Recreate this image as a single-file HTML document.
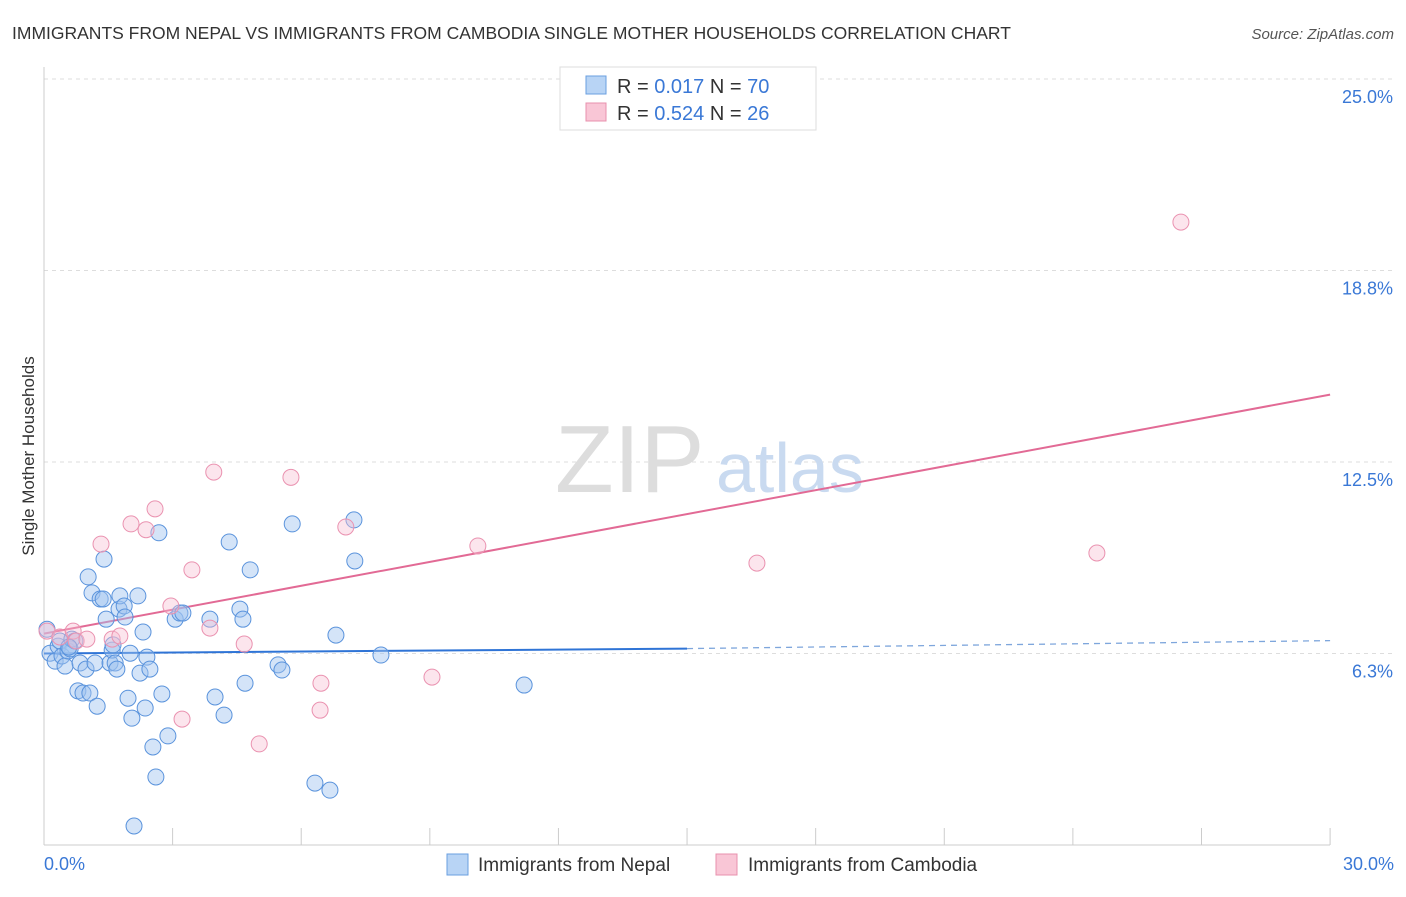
<!DOCTYPE html>
<html><head><meta charset="utf-8"><style>
body{margin:0;background:#fff;font-family:"Liberation Sans",sans-serif;}
svg text{font-family:"Liberation Sans",sans-serif;}
</style></head><body>
<svg id="c" width="1406" height="892" viewBox="0 0 1406 892">
<text x="12" y="39" font-size="17.5" fill="#333">IMMIGRANTS FROM NEPAL VS IMMIGRANTS FROM CAMBODIA SINGLE MOTHER HOUSEHOLDS CORRELATION CHART</text>
<text x="1394" y="39" font-size="15" fill="#555" font-style="italic" text-anchor="end">Source: ZipAtlas.com</text>
<text x="0" y="0" transform="translate(34,456) rotate(-90)" font-size="17" fill="#333" text-anchor="middle">Single Mother Households</text>
<g id="grid"></g>
<g><text x="555" y="492" font-size="96" fill="#ddd" font-family="Liberation Serif">ZIP</text><text x="716" y="492" font-size="70" fill="#c9daf0">atlas</text></g>
<g id="lines"></g>
<g id="pts"></g>
<g>
<rect x="560" y="67" width="256" height="63" fill="#fff" stroke="#ddd"/>
<rect x="586" y="76" width="20" height="18" fill="#b8d4f5" stroke="#6a9fe0"/>
<rect x="586" y="103" width="20" height="18" fill="#f9c6d6" stroke="#e890ad"/>
<text x="617" y="93" font-size="20" fill="#333">R = <tspan fill="#3a78d6">0.017</tspan>   N = <tspan fill="#3a78d6">70</tspan></text>
<text x="617" y="120" font-size="20" fill="#333">R = <tspan fill="#3a78d6">0.524</tspan>   N = <tspan fill="#3a78d6">26</tspan></text>
</g>
<g>
<rect x="447" y="854" width="21" height="21" fill="#b8d4f5" stroke="#6a9fe0"/>
<text x="478" y="871" font-size="19" fill="#333">Immigrants from Nepal</text>
<rect x="716" y="854" width="21" height="21" fill="#f9c6d6" stroke="#e890ad"/>
<text x="748" y="871" font-size="19" fill="#333">Immigrants from Cambodia</text>
</g>
</svg>
<script>
const yTicks=[25.0,18.8,12.5,6.3];
const yTickVals=[25,18.75,12.5,6.25];
const xTickLabels=["0.0%","30.0%"];
const nepalX=[0.07,0.14,0.26,0.33,0.37,0.42,0.49,0.56,0.61,0.65,0.72,0.79,0.84,0.91,0.98,1.03,1.07,1.12,1.19,1.24,1.31,1.38,1.40,1.45,1.54,1.59,1.66,1.70,1.75,1.77,1.87,1.89,1.96,2.01,2.05,2.19,2.24,2.31,2.36,2.40,2.47,2.54,2.61,2.68,2.75,2.89,3.06,3.17,3.24,3.87,3.99,4.20,4.32,4.57,4.64,4.69,4.81,5.46,5.55,5.79,6.32,6.67,6.81,7.23,7.25,7.86,11.20,2.10,1.61,0.58];
const nepalY=[7.04,6.26,6.0,6.49,6.66,6.17,5.84,6.33,6.4,6.72,6.66,5.03,5.94,4.96,5.74,8.75,4.96,8.23,5.94,4.53,8.03,8.03,9.33,7.37,5.94,6.36,5.94,5.74,7.7,8.13,7.8,7.44,4.79,6.26,4.14,8.13,5.61,6.95,4.47,6.13,5.74,3.2,2.22,10.19,4.93,3.56,7.37,7.57,7.57,7.37,4.83,4.24,9.89,7.7,7.37,5.28,8.98,5.88,5.71,10.48,2.02,1.79,6.85,10.61,9.27,6.2,5.22,0.62,6.53,6.46];
const cambX=[0.07,0.37,0.68,0.75,1.00,1.33,1.59,1.77,2.03,2.38,2.59,2.96,3.22,3.45,3.87,3.96,4.67,5.02,5.76,6.44,6.46,7.04,9.05,10.12,16.63,24.56,26.52];
const cambY=[6.98,6.79,6.98,6.66,6.72,9.82,6.72,6.82,10.48,10.29,10.97,7.8,4.11,8.98,7.08,12.17,6.56,3.3,12.0,4.4,5.28,10.38,5.48,9.76,9.2,9.53,20.33];
const nepalLine=[[0,6.25],[15,6.41],[30,6.67]];
const cambLine=[[0,6.9],[30,14.7]];
const X=v=>44+v*42.87, Y=v=>845-v*30.64;
const NS="http://www.w3.org/2000/svg";
function mk(t,a,p){const e=document.createElementNS(NS,t);for(const k in a)e.setAttribute(k,a[k]);p.appendChild(e);return e;}
const g=document.getElementById('grid');
yTickVals.forEach((v,i)=>{
 const l=mk('line',{x1:44,x2:1394,y1:Y(v),y2:Y(v),stroke:'#ddd','stroke-dasharray':'4,4'},g);
 
 
 const t=mk('text',{x:1393,y:Y(v)+24,'font-size':18,fill:'#3a78d6','text-anchor':'end'},g);
 t.textContent=yTicks[i].toFixed(1)+'%';
 
 
});
const ax=mk('line',{x1:44,x2:44,y1:67,y2:845,stroke:'#ccc'},g);


const bx=mk('line',{x1:44,x2:1330,y1:845,y2:845,stroke:'#ccc'},g);


for(let i=1;i<=10;i++){const tk=mk('line',{x1:X(i*3),x2:X(i*3),y1:828,y2:845,stroke:'#ccc'},g);
 
 }
[[0,'start',44],[1,'end',1394]].forEach(([i,a,x])=>{const t=mk('text',{x:x,y:870,'font-size':18,fill:'#3a78d6','text-anchor':a},g);t.textContent=xTickLabels[i];
 
 });
const p=document.getElementById('pts');
nepalX.forEach((x,i)=>{const c=mk('circle',{cx:X(x),cy:Y(nepalY[i]),r:8,fill:'rgba(160,196,240,0.45)',stroke:'#5a93dc','stroke-width':1},p);
 
 });
cambX.forEach((x,i)=>{const c=mk('circle',{cx:X(x),cy:Y(cambY[i]),r:8,fill:'rgba(248,190,210,0.4)',stroke:'#ea92b0','stroke-width':1},p);
 
 });
const L=document.getElementById('lines');
const a=mk('line',{x1:X(nepalLine[0][0]),y1:Y(nepalLine[0][1]),x2:X(nepalLine[1][0]),y2:Y(nepalLine[1][1]),stroke:'#2f74d6','stroke-width':2},L);


const b=mk('line',{x1:X(nepalLine[1][0]),y1:Y(nepalLine[1][1]),x2:X(nepalLine[2][0]),y2:Y(nepalLine[2][1]),stroke:'#7ea6dc','stroke-width':1.3,'stroke-dasharray':'6,5'},L);


const c2=mk('line',{x1:X(cambLine[0][0]),y1:Y(cambLine[0][1]),x2:X(cambLine[1][0]),y2:Y(cambLine[1][1]),stroke:'#e26a95','stroke-width':2},L);


</script>
</body></html>
